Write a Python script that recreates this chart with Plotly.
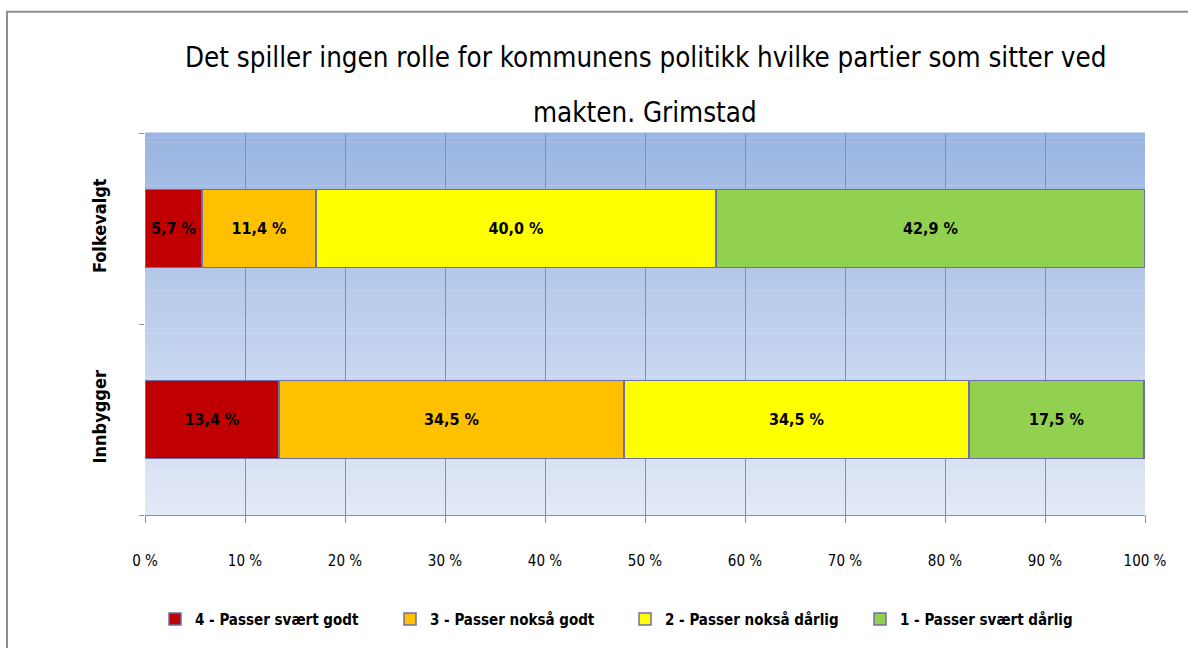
import plotly.graph_objects as go

categories = ["Innbygger", "Folkevalgt"]
series_names = ["4 - Passer svært godt", "3 - Passer nokså godt",
                "2 - Passer nokså dårlig", "1 - Passer svært dårlig"]
values = {
    "4 - Passer svært godt": [13.4, 5.7],
    "3 - Passer nokså godt": [34.5, 11.4],
    "2 - Passer nokså dårlig": [34.5, 40.0],
    "1 - Passer svært dårlig": [17.5, 42.9],
}
colors = ["#C00000", "#FFC000", "#FFFF00", "#92D050"]
tick_vals = [0, 10, 20, 30, 40, 50, 60, 70, 80, 90, 100]
tick_text = ["0 %", "10 %", "20 %", "30 %", "40 %", "50 %", "60 %", "70 %", "80 %", "90 %", "100 %"]
title_lines = ["Det spiller ingen rolle for kommunens politikk hvilke partier som sitter ved",
               "makten. Grimstad"]

FONT = "DejaVu Sans Condensed, Liberation Sans Narrow, sans-serif"

def fmt(v):
    return f"{v:.1f}".replace(".", ",") + " %"

fig = go.Figure()
for name, col in zip(series_names, colors):
    vals = values[name]
    fig.add_trace(go.Bar(
        y=categories, x=vals, name=name, orientation="h",
        marker=dict(color=col, line=dict(color="#6E6EA8", width=1.5)),
        text=[fmt(v) for v in vals], textposition="inside",
        insidetextanchor="middle", textangle=0,
        textfont=dict(family=FONT, size=16, color="black", weight="bold"),
        hoverinfo="skip",
    ))

# gradient background of plot area
shapes = []
N = 80
top = (0x9A, 0xB5, 0xE2)
bot = (0xE2, 0xE9, 0xF6)
for i in range(N):
    t = i / (N - 1)
    c = tuple(round(top[k] + (bot[k] - top[k]) * t) for k in range(3))
    shapes.append(dict(type="rect", xref="paper", yref="paper",
                       x0=0, x1=1, y0=1 - (i + 1) / N, y1=1 - i / N + 0.001,
                       fillcolor="rgb(%d,%d,%d)" % c, line=dict(width=0), layer="below"))
# outer frame
shapes.append(dict(type="rect", xref="paper", yref="paper",
                   x0=-0.138, x1=1.2, y0=-0.6, y1=1.3177,
                   line=dict(color="#909090", width=2), fillcolor="rgba(0,0,0,0)", layer="below"))

annotations = [
    dict(text=title_lines[0], xref="paper", yref="paper", x=0.5, y=1.198,
         showarrow=False, font=dict(family=FONT, size=27.5, color="black"), yanchor="middle"),
    dict(text=title_lines[1], xref="paper", yref="paper", x=0.5, y=1.0547,
         showarrow=False, font=dict(family=FONT, size=27.5, color="black"), yanchor="middle"),
]

fig.update_layout(
    width=1188, height=648,
    margin=dict(l=145, r=43, t=133, b=131),
    paper_bgcolor="white", plot_bgcolor="rgba(0,0,0,0)",
    barmode="stack", bargap=0.59,
    shapes=shapes, annotations=annotations,
    showlegend=True,
    legend=dict(orientation="h", x=0.01, xanchor="left", y=-0.273, yanchor="middle",
                font=dict(family=FONT, size=15, color="black", weight="bold"),
                entrywidth=190, entrywidthmode="pixels", traceorder="normal",
                itemclick=False, itemdoubleclick=False),
    xaxis=dict(range=[0, 100], tickvals=tick_vals, ticktext=tick_text,
               showgrid=True, gridcolor="#8E8E8E", gridwidth=1,
               showline=True, linecolor="#909090", linewidth=1,
               ticks="outside", ticklen=7, tickcolor="#909090",
               tickfont=dict(family=FONT, size=15, color="black"),
               ticklabelstandoff=25, zeroline=False, fixedrange=True),
    yaxis=dict(categoryorder="array", categoryarray=categories,
               showgrid=False, showline=False, zeroline=False,
               ticks="outside", ticklen=5, tickcolor="#909090", tickson="boundaries",
               tickangle=-90, ticklabelstandoff=34,
               tickfont=dict(family=FONT, size=18, color="black", weight="bold"),
               fixedrange=True),
)

fig.write_html("out.html", config={"displayModeBar": False},
               post_script="document.body.style.margin='0';")
